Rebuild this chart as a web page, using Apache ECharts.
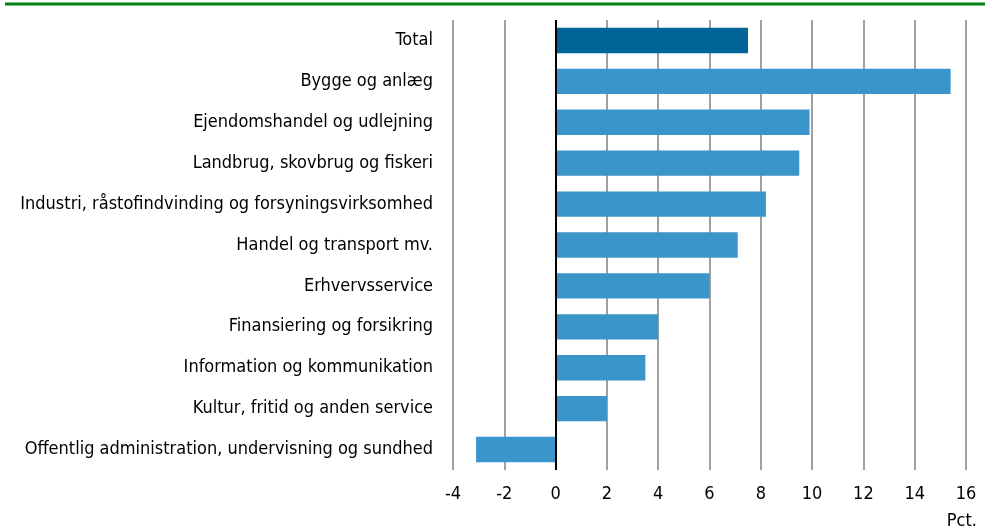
<!DOCTYPE html>
<html>
<head>
<meta charset="utf-8">
<script src="https://cdn.jsdelivr.net/npm/echarts@6/dist/echarts.min.js"></script>
<style>
  html, body { margin: 0; padding: 0; background: #fff; }
  #chart { width: 985px; height: 532px; }
</style>
</head>
<body>
<div id="chart"></div>
<script>
// kategorier, top til bund
const categories = [
  'Total',
  'Bygge og anlæg',
  'Ejendomshandel og udlejning',
  'Landbrug, skovbrug og fiskeri',
  'Industri, råstofindvinding og forsyningsvirksomhed',
  'Handel og transport mv.',
  'Erhvervsservice',
  'Finansiering og forsikring',
  'Information og kommunikation',
  'Kultur, fritid og anden service',
  'Offentlig administration, undervisning og sundhed'
]
const values = [7.5, 15.4, 9.9, 9.5, 8.2, 7.1, 6.0, 4.0, 3.5, 2.0, -3.1]
const xTicks = [-4, -2, 0, 2, 4, 6, 8, 10, 12, 14, 16]
const unitLabel = 'Pct.'

const font = 'DejaVu Sans Condensed'
const chart = echarts.init(document.getElementById('chart'))

const option = {
  animation: false,
  textStyle: { fontFamily: font },
  grid: { left: 453, right: 19, top: 20, bottom: 62 },
  graphic: [
    {
      type: 'line',
      shape: { x1: 5, y1: 4, x2: 985, y2: 4 },
      style: { stroke: '#008214', lineWidth: 3 }
    },
    {
      type: 'text',
      right: 8,
      top: 512,
      style: { text: unitLabel, font: '18px "' + font + '"', fill: '#000' }
    }
  ],
  xAxis: {
    type: 'value',
    min: xTicks[0],
    max: xTicks[xTicks.length - 1],
    interval: 2,
    axisLine: { show: false },
    axisTick: { show: false },
    axisLabel: { color: '#000', fontSize: 18, margin: 15 },
    splitLine: { show: true, lineStyle: { color: '#a0a0a0', width: 2 } }
  },
  yAxis: {
    type: 'category',
    data: categories,
    inverse: true,
    axisLine: { show: false },
    axisTick: { show: false },
    axisLabel: { color: '#000', fontSize: 18, margin: 20 }
  },
  series: [
    {
      type: 'bar',
      barWidth: '62%',
      data: values.map((v, i) => ({
        value: v,
        itemStyle: { color: i === 0 ? '#016496' : '#3a96ca' }
      })),
      markLine: {
        silent: true,
        symbol: 'none',
        label: { show: false },
        lineStyle: { color: '#000', width: 2, type: 'solid' },
        data: [{ xAxis: 0 }]
      }
    }
  ]
}

chart.setOption(option)
</script>
</body>
</html>
